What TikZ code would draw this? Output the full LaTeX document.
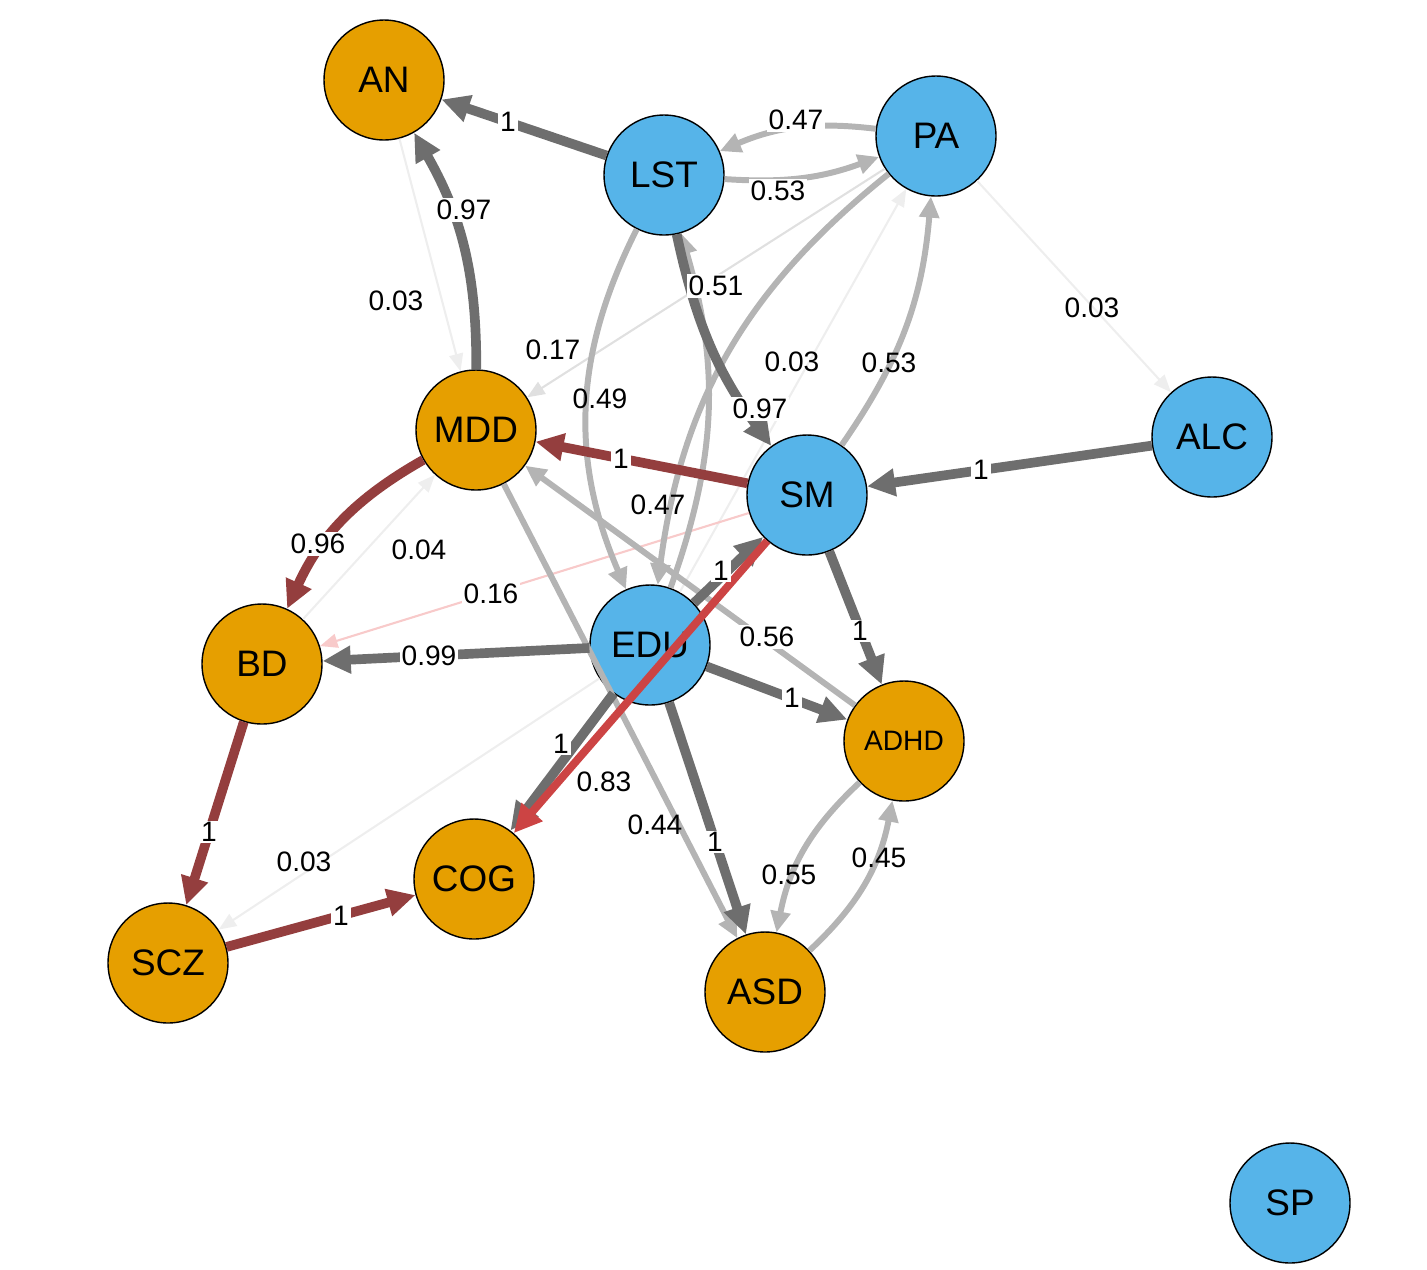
\documentclass[tikz,border=0pt]{standalone}
\usepackage{fontspec}
\setmainfont{Liberation Sans}
\usetikzlibrary{arrows.meta}
\definecolor{orng}{HTML}{E69F00}
\definecolor{blu}{HTML}{56B4E9}
\definecolor{dk}{HTML}{6E6E6E}
\definecolor{lt}{HTML}{B4B4B4}
\definecolor{rdk}{HTML}{943E3E}
\definecolor{rbr}{HTML}{CC4444}
\definecolor{pnk}{HTML}{F8CACA}
\definecolor{fnt}{HTML}{EEEEEE}
\tikzset{
  vb/.style={circle,draw=black,line width=0.8pt,minimum size=2.4cm,inner sep=0pt,fill=blu,font=\fontsize{21}{21}\selectfont},
  vo/.style={vb,fill=orng},
  heavy/.style={line width=5.5pt,-{Triangle[length=16pt,width=15pt]}},
  medium/.style={line width=3.4pt,-{Triangle[length=12pt,width=11pt]}},
  thin/.style={line width=1.2pt,-{Triangle[length=10pt,width=8pt]}},
  lab/.style={fill=white,inner sep=1pt,font=\fontsize{16}{16}\selectfont},
  flab/.style={inner sep=1pt,font=\fontsize{16}{16}\selectfont}
}
\begin{document}
\begin{tikzpicture}[x=0.02cm,y=-0.02cm]
\useasboundingbox (0,0) rectangle (1427,1269);
\node[vo] (AN) at (384,80) {AN};
\node[vb] (LST) at (664,175) {LST};
\node[vb] (PA) at (936,136) {PA};
\node[vo] (MDD) at (476,430) {MDD};
\node[vb] (ALC) at (1212,437) {ALC};
\node[vb] (SM) at (807,495) {SM};
\node[vo] (BD) at (262,664) {BD};
\node[vb] (EDU) at (650,645) {EDU};
\node[vo,font=\fontsize{16}{16}\selectfont] (ADHD) at (904,741) {ADHD};
\node[vo] (COG) at (474,879) {COG};
\node[vo] (SCZ) at (168,963) {SCZ};
\node[vo] (ASD) at (765,992) {ASD};
\node[vb] (SP) at (1290,1203) {SP};
\begin{scope}[on background layer/.style={}]
% faint edges
\draw[thin,draw=fnt,fill=fnt] (AN) -- (MDD);
\draw[thin,draw=fnt] (PA) -- (ALC);
\draw[thin,draw=fnt] (EDU) -- (PA);
\draw[thin,draw=fnt] (BD) -- (MDD);
\draw[thin,draw=fnt] (EDU) -- (SCZ);
\draw[thin,draw=black!12] (PA) -- (MDD);
\draw[thin,draw=pnk] (SM) -- (BD);
% light edges
\draw[medium,draw=lt] (PA) to[bend right=15] (LST);
\draw[medium,draw=lt] (LST) to[bend right=12] (PA);
\draw[medium,draw=lt] (LST) to[bend right=25] (EDU);
\draw[medium,draw=lt] (EDU) to[bend right=18] (LST);
\draw[medium,draw=lt] (PA) to[bend right=22] (EDU);
\draw[medium,draw=lt] (SM) to[bend right=15] (PA);
\draw[medium,draw=lt] (ADHD) -- (MDD);
\draw[medium,draw=lt] (MDD) -- (ASD);
\draw[medium,draw=lt] (ADHD) to[bend right=18] (ASD);
\draw[medium,draw=lt] (ASD) to[bend right=18] (ADHD);
% heavy edges
\draw[heavy,draw=dk] (LST) -- (AN);
\draw[heavy,draw=dk] (MDD) to[bend right=15] (AN);
\draw[heavy,draw=dk] (LST) to[bend right=12] (SM);
\draw[heavy,draw=dk] (ALC) -- (SM);
\draw[heavy,draw=dk] (EDU) -- (SM);
\draw[heavy,draw=dk] (EDU) -- (BD);
\draw[heavy,draw=dk] (SM) -- (ADHD);
\draw[heavy,draw=dk] (EDU) -- (ADHD);
\draw[heavy,draw=dk] (EDU) -- (COG);
\draw[heavy,draw=dk] (EDU) -- (ASD);
\draw[heavy,draw=rdk] (SM) -- (MDD);
\draw[heavy,draw=rdk] (MDD) to[bend right=18] (BD);
\draw[heavy,draw=rdk] (BD) -- (SCZ);
\draw[heavy,draw=rdk] (SCZ) -- (COG);
\draw[heavy,draw=rbr,line width=4.5pt] (SM) -- (COG);
\end{scope}
% labels
\node[lab] (l1) at (508,122) {1};
\node[lab] (l2) at (464,210) {0.97};
\node[flab] (l3) at (396,301) {0.03};
\node[lab] (l4) at (796,120) {0.47};
\node[lab] (l5) at (778,191) {0.53};
\node[lab] (l6) at (716,286) {0.51};
\node[flab] (l7) at (553,350) {0.17};
\node[flab] (l8) at (600,399) {0.49};
\node[flab] (l9) at (792,362) {0.03};
\node[flab] (l10) at (889,363) {0.53};
\node[lab] (l11) at (760,409) {0.97};
\node[flab] (l12) at (1092,308) {0.03};
\node[lab] (l13) at (981,470) {1};
\node[lab] (l14) at (621,459) {1};
\node[flab] (l15) at (658,505) {0.47};
\node[lab] (l16) at (318,544) {0.96};
\node[flab] (l17) at (419,550) {0.04};
\node[lab] (l18) at (491,594) {0.16};
\node[lab] (l19) at (721,571) {1};
\node[lab] (l20) at (767,637) {0.56};
\node[lab] (l21) at (429,656) {0.99};
\node[lab] (l22) at (860,631) {1};
\node[lab] (l23) at (792,698) {1};
\node[lab] (l24) at (561,744) {1};
\node[flab] (l25) at (604,782) {0.83};
\node[flab] (l26) at (655,825) {0.44};
\node[lab] (l27) at (715,842) {1};
\node[lab] (l28) at (209,832) {1};
\node[flab] (l29) at (304,862) {0.03};
\node[lab] (l30) at (341,916) {1};
\node[flab] (l31) at (789,875) {0.55};
\node[flab] (l32) at (879,858) {0.45};
\end{tikzpicture}
\end{document}
